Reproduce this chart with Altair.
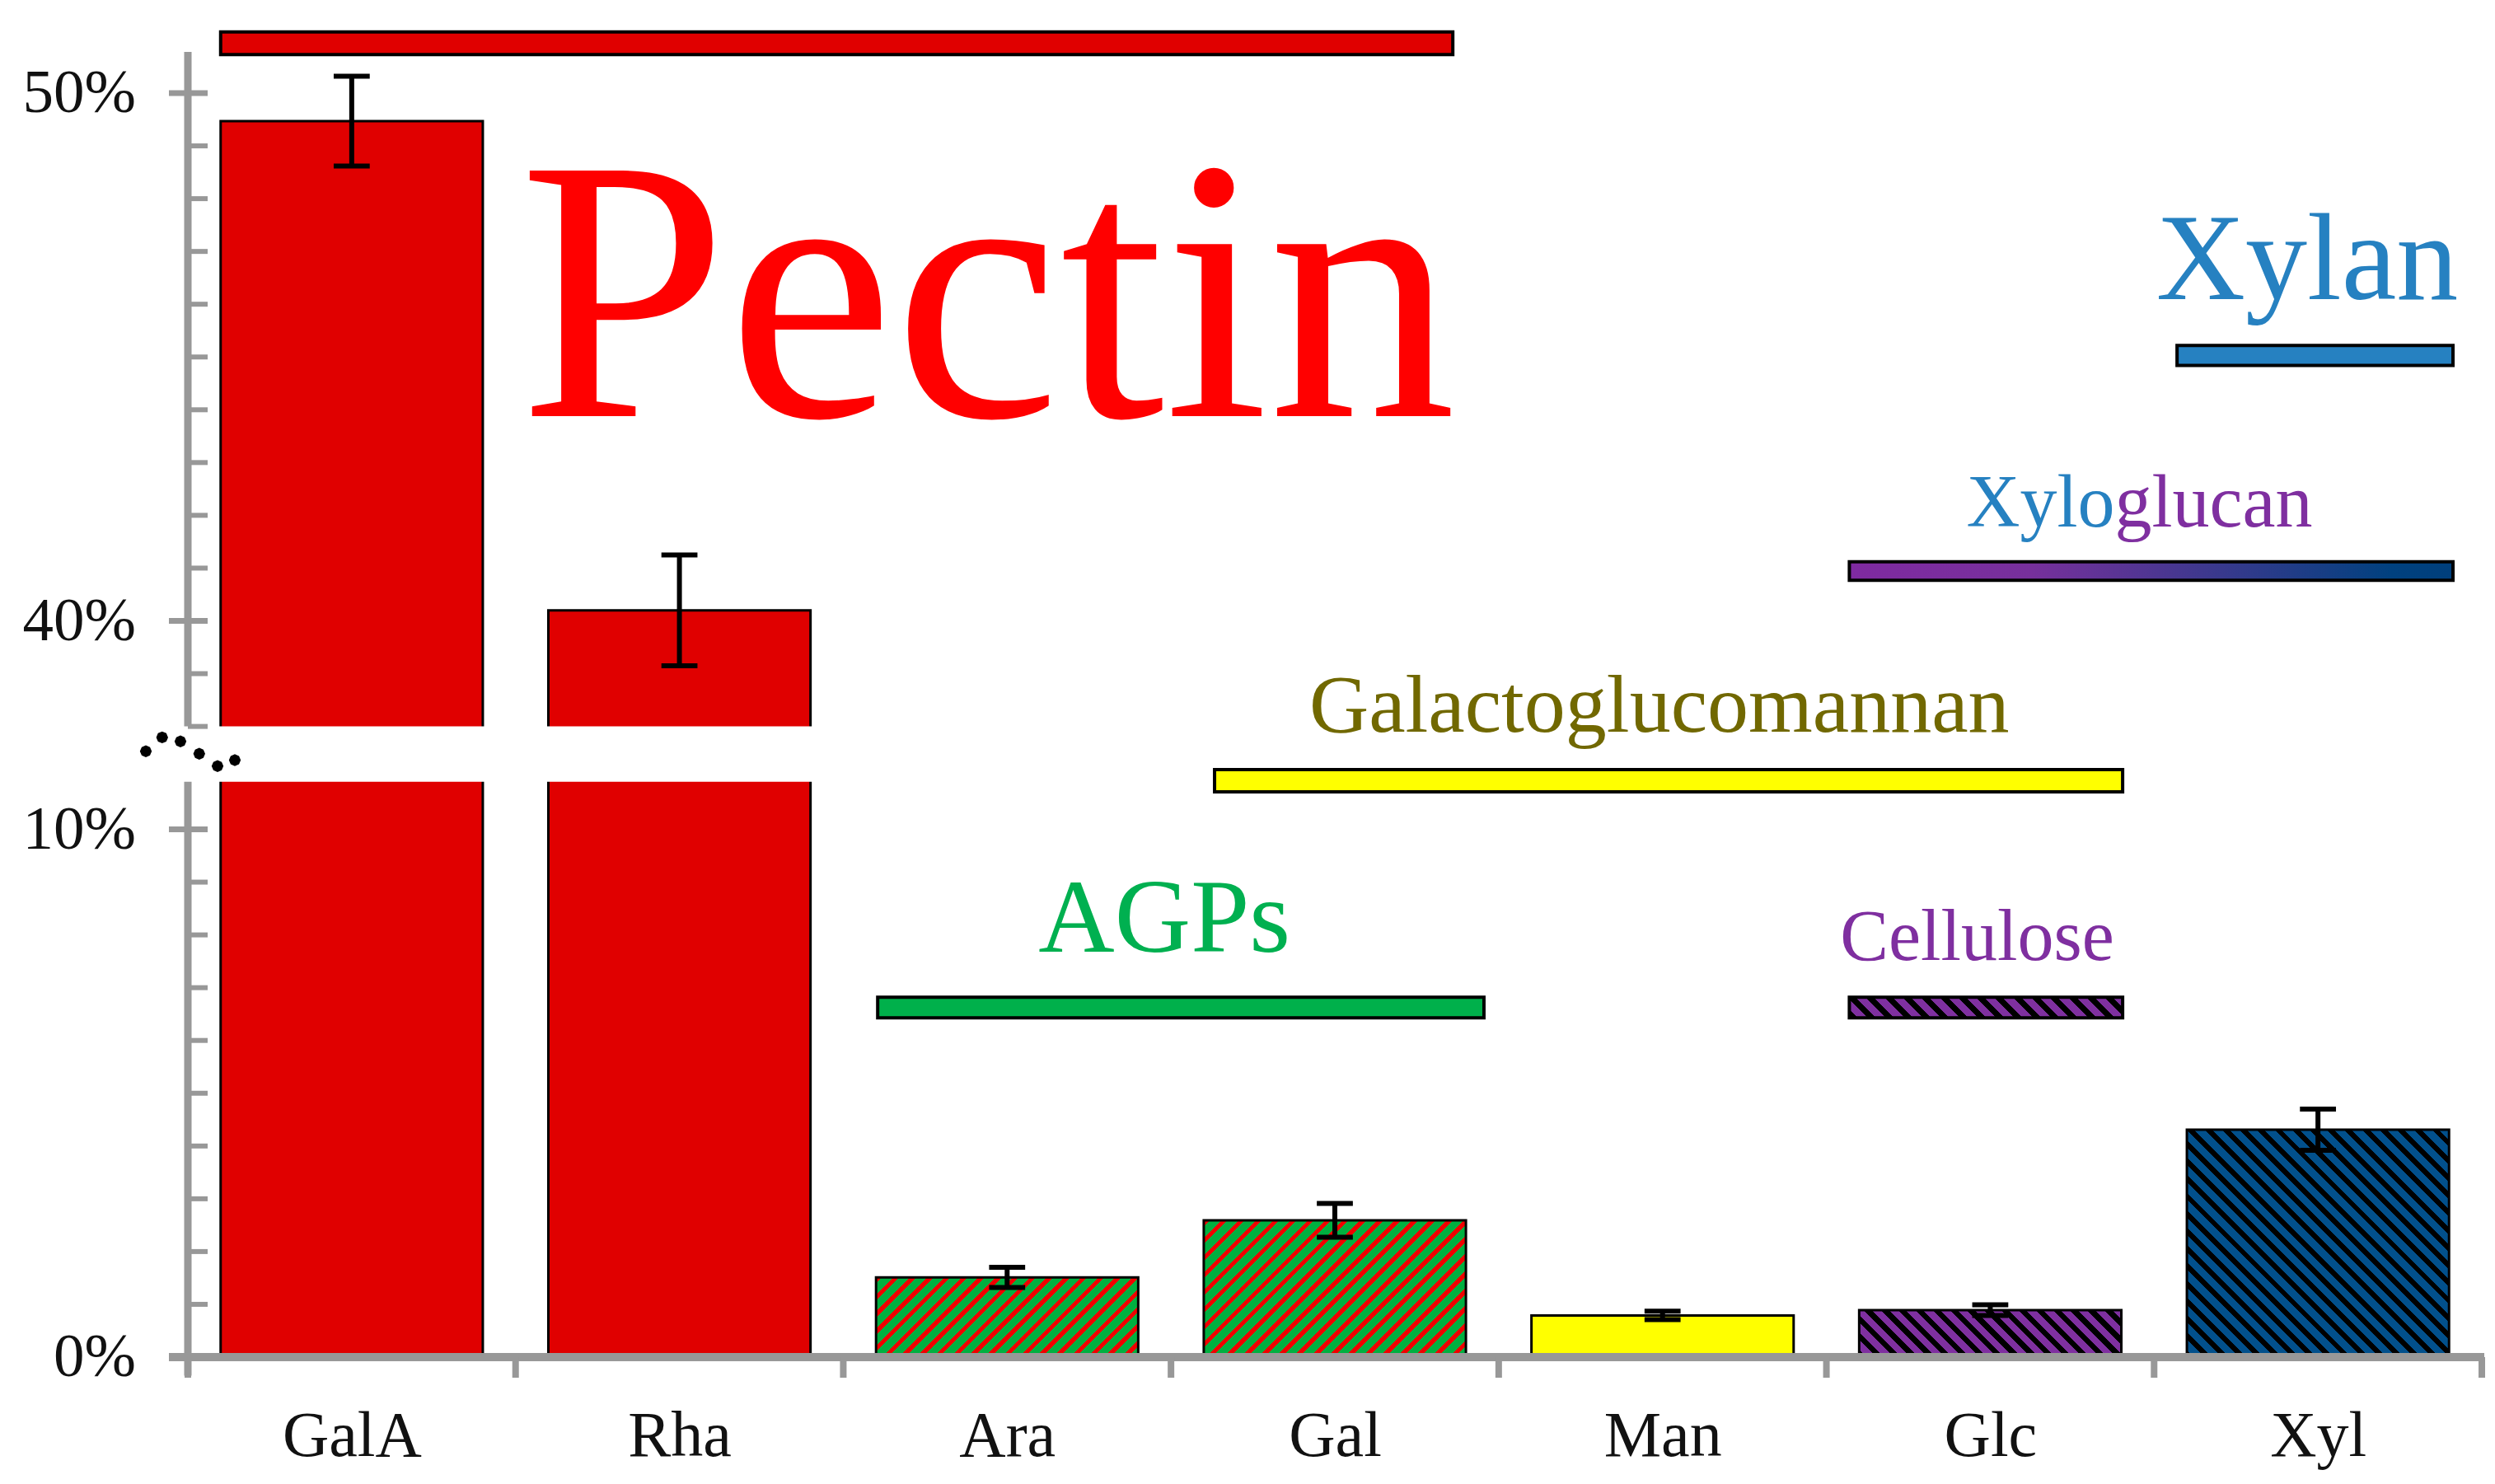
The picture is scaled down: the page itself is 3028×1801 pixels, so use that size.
import json
import altair as alt
import pandas as pd

# ---------------- data ----------------
categories = ["GalA", "Rha", "Ara", "Gal", "Man", "Glc", "Xyl"]
values = [49.47, 40.20, 1.51, 2.59, 0.79, 0.89, 4.31]      # % of total sugar
errors = [0.85, 1.05, 0.19, 0.32, 0.08, 0.10, 0.39]

major_ticks = [0, 10, 40, 50]
major_labels = ["0%", "10%", "40%", "50%"]
minor_ticks = [1, 2, 3, 4, 5, 6, 7, 8, 9, 38, 39, 41, 42, 43, 44, 45, 46, 47, 48, 49]

groups = ["Pectin", "AGPs", "Galactoglucomannan", "Cellulose", "Xyloglucan", "Xylan"]

# ---------------- layout / style ----------------
W, H = 2784, 1637
PX = 64.05                 # pixels per 1 %
YMAX = H / PX
OFFSET = 26.05             # broken axis: upper part shifted down by this much
LOW_TOP = 10.9             # top of the lower axis segment (%)
HIGH_BOTTOM = 38.0         # bottom of the upper axis segment (%)
AX_TOP = 50.78
FONT = "Liberation Serif"
GRAY = "#989898"
STEP = W / len(categories)

# annotation spans (category-axis units) and levels (% units)
ann_x0 = [0.10, 2.105, 3.133, 5.07, 5.07, 6.07]
ann_x1 = [3.86, 3.955, 5.904, 5.904, 6.912, 6.912]
ann_lo = [50.73, 6.43, 10.71, 6.43, 40.77, 44.84]
ann_hi = [51.16, 6.82, 11.13, 6.82, 41.12, 45.22]
ann_tx = [2.44, 2.98, 4.49, 5.46, 5.88, 6.467]
ann_ty = [43.88, 7.68, 11.85, 7.53, 41.79, 46.09]
ann_fs = [455, 128, 100, 88, 90, 150]


def brk(v):
    return v - OFFSET if v > 20 else v


def brk_expr(f):
    return f"datum['{f}'] > 20 ? datum['{f}'] - {OFFSET} : datum['{f}']"


XS = alt.Scale(domain=[0, len(categories)], nice=False, zero=False)
YS = alt.Scale(domain=[0, YMAX], nice=False, zero=False)
XAXIS = alt.Axis(
    values=[i + 0.5 for i in range(len(categories))],
    labelExpr=json.dumps(categories) + "[floor(datum.value)]",
    title=None, ticks=False, tickSize=0, domain=False, grid=False,
    labelFont=FONT, labelFontSize=78, labelColor="#111111",
    labelBaseline="alphabetic", labelPadding=119, labelFlush=False,
    labelOverlap=False, labelAngle=0,
)


def X(f):
    return alt.X(field=f, type="quantitative", scale=XS, axis=XAXIS)


def Y(f):
    return alt.Y(field=f, type="quantitative", scale=YS, axis=None)


def hatch(w, h, bg, fg, direction, frac, period=21.0):
    n = max(1, int(round((w + h) / period)))
    k = (w + h) / (w * w + h * h)
    if direction == "/":
        x1, y1, x2, y2 = 0, 0, k * w, k * h
    else:
        x1, y1, x2, y2 = 0, 1, k * w, 1 - k * h
    stops = []
    for i in range(n):
        a, b, c = round(i / n, 5), round((i + frac) / n, 5), round((i + 1) / n, 5)
        stops += [
            alt.GradientStop(offset=a, color=fg),
            alt.GradientStop(offset=b, color=fg),
            alt.GradientStop(offset=b, color=bg),
            alt.GradientStop(offset=c, color=bg),
        ]
    return alt.LinearGradient(gradient="linear", stops=stops, x1=x1, y1=y1, x2=x2, y2=y2)


layers = []

# ---------------- annotation bars ----------------
ann_fill = {
    "Pectin": "#e00000",
    "AGPs": "#00b04b",
    "Galactoglucomannan": "#ffff00",
    "Xylan": "#2681c1",
    "Xyloglucan": alt.LinearGradient(
        gradient="linear",
        stops=[alt.GradientStop(offset=0, color="#7f2aa1"),
               alt.GradientStop(offset=0.3, color="#77309c"),
               alt.GradientStop(offset=0.9, color="#00417f"),
               alt.GradientStop(offset=1, color="#003f7c")],
        x1=0, y1=0, x2=1, y2=0),
}
ci = groups.index("Cellulose")
ann_fill["Cellulose"] = hatch((ann_x1[ci] - ann_x0[ci]) * STEP,
                              (ann_hi[ci] - ann_lo[ci]) * PX,
                              "#7f30a0", "#000000", "\\", 0.45, period=23.0)

for i, g in enumerate(groups):
    df = pd.DataFrame({"g": [g], "x0": [ann_x0[i]], "x1": [ann_x1[i]],
                       "lo": [ann_lo[i]], "hi": [ann_hi[i]]})
    layers.append(
        alt.Chart(df).transform_calculate(tlo=brk_expr("lo"), thi=brk_expr("hi"))
        .mark_rect(fill=ann_fill[g], stroke="black", strokeWidth=4)
        .encode(x=X("x0"), x2=alt.X2(field="x1"), y=Y("tlo"), y2=alt.Y2(field="thi"))
    )

# ---------------- data bars ----------------
bars = pd.DataFrame({"cat": categories, "idx": list(range(len(categories))),
                     "v": values, "e": errors})
base = (
    alt.Chart(bars)
    .transform_calculate(vhi="datum.v + datum.e", vlo="datum.v - datum.e")
    .transform_calculate(
        t=brk_expr("v"), thi=brk_expr("vhi"), tlo=brk_expr("vlo"),
        x0="datum.idx + 0.1", x1="datum.idx + 0.9", xc="datum.idx + 0.5",
        cl="datum.idx + 0.445", cr="datum.idx + 0.555", zero="0",
    )
)

plain_cats = ["GalA", "Rha", "Man"]
plain_cols = ["#e00000", "#e00000", "#ffff00"]
layers.append(
    base.transform_filter(alt.FieldOneOfPredicate(field="cat", oneOf=plain_cats))
    .mark_rect(stroke="black", strokeWidth=3)
    .encode(x=X("x0"), x2=alt.X2(field="x1"), y=Y("zero"), y2=alt.Y2(field="t"),
            fill=alt.Fill("cat:N", scale=alt.Scale(domain=plain_cats, range=plain_cols), legend=None))
)

hatch_cats = ["Ara", "Gal", "Glc", "Xyl"]
hatch_bg = ["#00b040", "#00b040", "#7f30a0", "#02508c"]
hatch_fg = ["#f00000", "#f00000", "#000000", "#000000"]
hatch_dir = ["/", "/", "\\", "\\"]
hatch_frac = [0.36, 0.36, 0.45, 0.42]
for j, c in enumerate(hatch_cats):
    v = values[categories.index(c)]
    grad = hatch(0.8 * STEP, brk(v) * PX, hatch_bg[j], hatch_fg[j], hatch_dir[j], hatch_frac[j])
    layers.append(
        base.transform_filter(alt.datum.cat == c)
        .mark_rect(fill=grad, stroke="black", strokeWidth=3)
        .encode(x=X("x0"), x2=alt.X2(field="x1"), y=Y("zero"), y2=alt.Y2(field="t"))
    )

# white gap of the broken axis across the tall bars
gap = pd.DataFrame({"x0": [0.05], "x1": [1.95], "lo": [LOW_TOP], "hi": [HIGH_BOTTOM]})
layers.append(
    alt.Chart(gap).transform_calculate(tlo=brk_expr("lo"), thi=brk_expr("hi"))
    .mark_rect(fill="white", strokeWidth=0)
    .encode(x=X("x0"), x2=alt.X2(field="x1"), y=Y("tlo"), y2=alt.Y2(field="thi"))
)

# error bars
layers.append(base.mark_rule(color="black", strokeWidth=6)
              .encode(x=X("xc"), y=Y("tlo"), y2=alt.Y2(field="thi")))
layers.append(base.mark_rule(color="black", strokeWidth=6)
              .encode(x=X("cl"), x2=alt.X2(field="cr"), y=Y("thi")))
layers.append(base.mark_rule(color="black", strokeWidth=6)
              .encode(x=X("cl"), x2=alt.X2(field="cr"), y=Y("tlo")))

# ---------------- axes drawn as marks ----------------
minor_df = pd.DataFrame({"v": minor_ticks})
layers.append(alt.Chart(minor_df).transform_calculate(t=brk_expr("v"))
              .mark_rule(color=GRAY, strokeWidth=6)
              .encode(x=alt.value(0), x2=alt.value(24), y=Y("t")))
major_df = pd.DataFrame({"v": major_ticks, "lab": major_labels})
layers.append(alt.Chart(major_df).transform_calculate(t=brk_expr("v"))
              .mark_rule(color=GRAY, strokeWidth=7)
              .encode(x=alt.value(-23), x2=alt.value(24), y=Y("t")))
seg = pd.DataFrame({"a": [-0.35, HIGH_BOTTOM], "b": [LOW_TOP, AX_TOP]})
layers.append(alt.Chart(seg).transform_calculate(ta=brk_expr("a"), tb=brk_expr("b"))
              .mark_rule(color=GRAY, strokeWidth=9)
              .encode(x=alt.value(0), y=Y("ta"), y2=alt.Y2(field="tb")))
xline = pd.DataFrame({"y": [0]})
layers.append(alt.Chart(xline).mark_rule(color=GRAY, strokeWidth=10)
              .encode(x=alt.value(-23), x2=alt.value(W + 3), y=Y("y")))
bounds = pd.DataFrame({"b": list(range(len(categories) + 1)), "y": 0})
layers.append(alt.Chart(bounds).mark_rule(color=GRAY, strokeWidth=8)
              .encode(x=X("b"), y=Y("y"), y2=alt.value(H + 25)))
layers.append(alt.Chart(major_df).transform_calculate(t=brk_expr("v"))
              .mark_text(font=FONT, fontSize=75, color="#111111", align="right", baseline="middle")
              .encode(x=alt.value(-63), y=Y("t"), text="lab:N"))

# break symbol (dotted wave)
dots = [(-0.9, 0.0), (-0.57, -0.28), (-0.2, -0.2), (0.18, 0.05), (0.55, 0.3), (0.9, 0.18)]
r = 0.12
path = " ".join(
    f"M{x - r:.3f},{y:.3f} L{x - r * 0.7:.3f},{y - r * 0.7:.3f} L{x:.3f},{y - r:.3f} "
    f"L{x + r * 0.7:.3f},{y - r * 0.7:.3f} L{x + r:.3f},{y:.3f} L{x + r * 0.7:.3f},{y + r * 0.7:.3f} "
    f"L{x:.3f},{y + r:.3f} L{x - r * 0.7:.3f},{y + r * 0.7:.3f} Z"
    for x, y in dots
)
brk_df = pd.DataFrame({"t": [11.48]})
layers.append(alt.Chart(brk_df).mark_point(shape=path, size=14400, filled=True, color="black",
                                           opacity=1, strokeWidth=0)
              .encode(x=alt.value(3), y=Y("t")))

# ---------------- annotation texts ----------------
text_cols = {"Pectin": "#ff0000", "AGPs": "#00b050", "Galactoglucomannan": "#716800",
             "Cellulose": "#7f2fa0", "Xylan": "#2681c1"}
for i, g in enumerate(groups):
    if g == "Xyloglucan":
        parts = [(g[:4], "right", "#2681c1"), (g[4:], "left", "#7f2fa0")]
    else:
        parts = [(g, "center", text_cols[g])]
    for txt, al, col in parts:
        df = pd.DataFrame({"txt": [txt], "x": [ann_tx[i]], "y": [ann_ty[i]]})
        layers.append(
            alt.Chart(df).transform_calculate(t=brk_expr("y"))
            .mark_text(font=FONT, fontSize=ann_fs[i], color=col, align=al, baseline="alphabetic")
            .encode(x=X("x"), y=Y("t"), text="txt:N")
        )

chart = (
    alt.layer(*layers)
    .properties(width=W, height=H, background="white",
                autosize=alt.AutoSizeParams(type="none"),
                padding={"left": 220, "top": 2, "right": 8, "bottom": 146})
    .configure_view(strokeWidth=0, stroke=None)
)

chart.save("out.html", embed_options={"renderer": "svg", "actions": False})
